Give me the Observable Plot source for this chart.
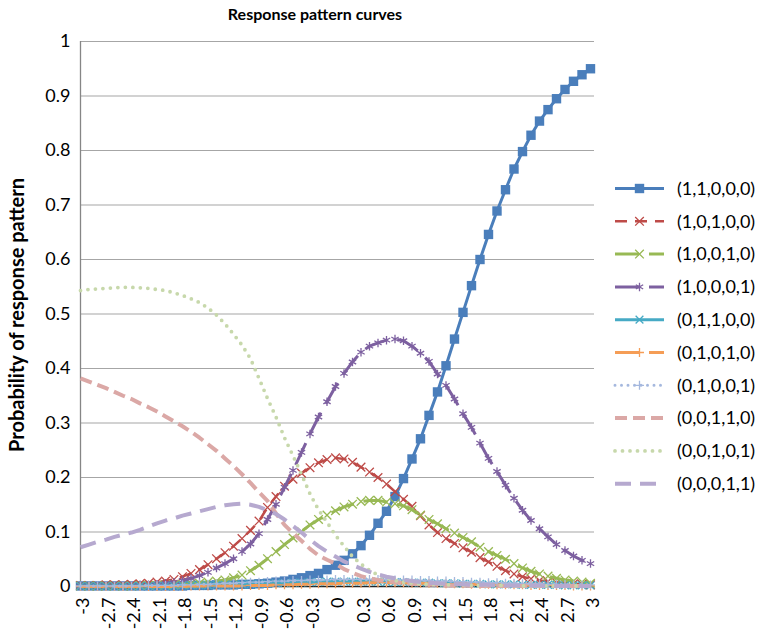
<!DOCTYPE html>
<html>
<head>
<meta charset="utf-8">
<script src="https://cdn.jsdelivr.net/npm/d3@7"></script>
<script src="https://cdn.jsdelivr.net/npm/@observablehq/plot@0.6"></script>
<style>
  html, body { margin: 0; padding: 0; background: #fff; }
  #chart { width: 761px; height: 636px; }
</style>
</head>
<body>
<div id="chart"></div>
<script>
// Ability levels (theta), one category every 0.1
const theta = [
  -3.0, -2.9, -2.8, -2.7, -2.6, -2.5, -2.4, -2.3, -2.2, -2.1,
  -2.0, -1.9, -1.8, -1.7, -1.6, -1.5, -1.4, -1.3, -1.2, -1.1,
  -1.0, -0.9, -0.8, -0.7, -0.6, -0.5, -0.4, -0.3, -0.2, -0.1,
   0.0,  0.1,  0.2,  0.3,  0.4,  0.5,  0.6,  0.7,  0.8,  0.9,
   1.0,  1.1,  1.2,  1.3,  1.4,  1.5,  1.6,  1.7,  1.8,  1.9,
   2.0,  2.1,  2.2,  2.3,  2.4,  2.5,  2.6,  2.7,  2.8,  2.9,
   3.0
];

// Labelled categories on the horizontal axis
const xTickLabels = [-3, -2.7, -2.4, -2.1, -1.8, -1.5, -1.2, -0.9, -0.6, -0.3, 0,
                     0.3, 0.6, 0.9, 1.2, 1.5, 1.8, 2.1, 2.4, 2.7, 3];
const yTicks = [0, 0.1, 0.2, 0.3, 0.4, 0.5, 0.6, 0.7, 0.8, 0.9, 1];

const patterns = ["(1,1,0,0,0)", "(1,0,1,0,0)", "(1,0,0,1,0)", "(1,0,0,0,1)", "(0,1,1,0,0)",
                  "(0,1,0,1,0)", "(0,1,0,0,1)", "(0,0,1,1,0)", "(0,0,1,0,1)", "(0,0,0,1,1)"];

// Probability of each response pattern at every theta
const p11000 = [
  0.001,0.001,0.001,0.001,0.001,0.001,0.001,0.001,0.001,0.001,
  0.001,0.001,0.001,0.002,0.002,0.002,0.003,0.003,0.003,0.004,
  0.004,0.005,0.006,0.008,0.010,0.013,0.016,0.020,0.024,0.031,
  0.039,0.048,0.060,0.075,0.094,0.116,0.138,0.165,0.198,0.234,
  0.271,0.314,0.357,0.405,0.454,0.503,0.552,0.600,0.646,0.689,
  0.728,0.766,0.798,0.828,0.854,0.875,0.895,0.912,0.927,0.939,
  0.950];
const p10100 = [
  0.002,0.002,0.002,0.003,0.003,0.003,0.004,0.005,0.006,0.008,
  0.010,0.013,0.018,0.024,0.031,0.040,0.051,0.062,0.074,0.088,
  0.103,0.120,0.145,0.165,0.184,0.197,0.208,0.218,0.227,0.233,
  0.236,0.234,0.228,0.219,0.210,0.200,0.188,0.174,0.160,0.147,
  0.130,0.113,0.099,0.088,0.079,0.071,0.063,0.053,0.045,0.037,
  0.029,0.023,0.018,0.014,0.011,0.009,0.007,0.006,0.005,0.004,
  0.003];
const p10010 = [
  0.001,0.001,0.001,0.001,0.001,0.001,0.001,0.002,0.002,0.002,
  0.003,0.003,0.004,0.005,0.006,0.008,0.010,0.012,0.016,0.021,
  0.029,0.039,0.051,0.064,0.077,0.089,0.101,0.113,0.123,0.131,
  0.139,0.146,0.151,0.156,0.158,0.158,0.155,0.152,0.148,0.141,
  0.131,0.123,0.115,0.106,0.098,0.090,0.082,0.072,0.064,0.057,
  0.050,0.042,0.034,0.028,0.023,0.019,0.015,0.012,0.010,0.008,
  0.006];
const p10001 = [
  0.001,0.001,0.001,0.001,0.002,0.002,0.002,0.003,0.003,0.004,
  0.006,0.008,0.011,0.015,0.020,0.026,0.034,0.042,0.051,0.064,
  0.078,0.097,0.123,0.151,0.182,0.213,0.246,0.280,0.311,0.339,
  0.367,0.391,0.412,0.430,0.441,0.447,0.452,0.454,0.451,0.441,
  0.428,0.413,0.390,0.369,0.344,0.317,0.292,0.263,0.235,0.211,
  0.186,0.162,0.140,0.121,0.106,0.091,0.077,0.066,0.056,0.048,
  0.042];
const p01100 = [
  0.001,0.001,0.001,0.001,0.001,0.001,0.001,0.001,0.001,0.001,
  0.001,0.001,0.002,0.002,0.002,0.002,0.003,0.003,0.003,0.004,
  0.004,0.005,0.005,0.006,0.006,0.007,0.007,0.008,0.008,0.009,
  0.009,0.009,0.009,0.009,0.009,0.009,0.008,0.008,0.008,0.007,
  0.007,0.007,0.006,0.006,0.006,0.005,0.005,0.005,0.004,0.004,
  0.004,0.004,0.003,0.003,0.003,0.003,0.003,0.002,0.002,0.002,
  0.002];
const p01010 = [
  0.000,0.000,0.000,0.000,0.000,0.000,0.000,0.000,0.000,0.000,
  0.000,0.000,0.000,0.001,0.001,0.001,0.001,0.001,0.001,0.001,
  0.002,0.002,0.002,0.003,0.003,0.003,0.004,0.004,0.005,0.005,
  0.005,0.006,0.006,0.006,0.007,0.007,0.007,0.007,0.007,0.006,
  0.006,0.006,0.006,0.005,0.005,0.005,0.004,0.004,0.004,0.003,
  0.003,0.003,0.003,0.002,0.002,0.002,0.002,0.002,0.001,0.001,
  0.001];
const p01001 = [
  0.001,0.001,0.001,0.001,0.001,0.001,0.001,0.001,0.002,0.002,
  0.002,0.002,0.003,0.003,0.004,0.004,0.005,0.006,0.006,0.007,
  0.008,0.008,0.009,0.010,0.010,0.011,0.011,0.012,0.012,0.012,
  0.013,0.013,0.013,0.013,0.013,0.013,0.013,0.012,0.012,0.012,
  0.011,0.011,0.010,0.010,0.009,0.009,0.008,0.008,0.007,0.007,
  0.006,0.006,0.005,0.005,0.005,0.004,0.004,0.004,0.003,0.003,
  0.003];
const p00110 = [
  0.382,0.376,0.370,0.364,0.357,0.350,0.344,0.336,0.329,0.321,
  0.312,0.303,0.294,0.284,0.273,0.261,0.249,0.235,0.221,0.206,
  0.190,0.173,0.157,0.134,0.113,0.098,0.084,0.069,0.057,0.049,
  0.042,0.032,0.025,0.019,0.015,0.012,0.010,0.008,0.006,0.005,
  0.004,0.003,0.003,0.002,0.002,0.002,0.001,0.001,0.001,0.001,
  0.001,0.001,0.001,0.001,0.001,0.001,0.001,0.001,0.001,0.001,
  0.001];
const p00101 = [
  0.543,0.545,0.546,0.547,0.548,0.549,0.549,0.548,0.547,0.545,
  0.543,0.539,0.534,0.528,0.521,0.511,0.498,0.482,0.463,0.443,
  0.418,0.382,0.345,0.311,0.273,0.240,0.206,0.170,0.141,0.118,
  0.094,0.074,0.055,0.041,0.030,0.021,0.015,0.011,0.008,0.006,
  0.005,0.004,0.004,0.003,0.003,0.003,0.002,0.002,0.002,0.002,
  0.002,0.001,0.001,0.001,0.001,0.001,0.001,0.001,0.001,0.001,
  0.001];
const p00011 = [
  0.072,0.077,0.082,0.086,0.091,0.095,0.099,0.104,0.110,0.116,
  0.121,0.125,0.130,0.134,0.138,0.142,0.146,0.149,0.151,0.152,
  0.150,0.146,0.140,0.133,0.123,0.111,0.099,0.086,0.074,0.064,
  0.055,0.046,0.039,0.033,0.027,0.022,0.018,0.015,0.012,0.010,
  0.008,0.007,0.006,0.005,0.004,0.004,0.003,0.003,0.003,0.002,
  0.002,0.002,0.002,0.002,0.002,0.001,0.001,0.001,0.001,0.001,
  0.001];

const values = [p11000, p10100, p10010, p10001, p01100, p01010, p01001, p00110, p00101, p00011];

// Line and marker look of each pattern
const looks = [
  {color: "#4a7ebb", width: 3,   dash: null,    cap: "butt",  symbol: "square",   r: 5.3, filled: true},
  {color: "#be4b48", width: 2.5, dash: "12,8",  cap: "butt",  symbol: "times",    r: 4},
  {color: "#98b954", width: 3,   dash: "24,10", cap: "butt",  symbol: "times",    r: 4},
  {color: "#7d60a0", width: 3,   dash: "24,10", cap: "butt",  symbol: "asterisk", r: 4},
  {color: "#46aac5", width: 3,   dash: null,    cap: "butt",  symbol: "times",    r: 3.6},
  {color: "#f59d56", width: 3,   dash: "24,10", cap: "butt",  symbol: "plus",     r: 3},
  {color: "#a5b8de", width: 3,   dash: "0,6.5", cap: "round", symbol: "plus",     r: 3},
  {color: "#dba8a6", width: 4,   dash: "12,6",  cap: "butt",  symbol: null},
  {color: "#c7d8ab", width: 3.8, dash: "0,7.5", cap: "round", symbol: null},
  {color: "#b6a9cf", width: 4,   dash: "16,9",  cap: "butt",  symbol: null}
];

const rows = patterns.map((name, k) => theta.map((t, i) => ({theta: t, p: values[k][i], pattern: name})));

const fmtX = d => String(d);
const fmtY = d => String(+d.toFixed(1));

const marks = [
  Plot.gridY(yTicks, {stroke: "#a6a6a6", strokeOpacity: 1, strokeWidth: 1.2}),
  Plot.ruleX([-3], {stroke: "#868686", strokeWidth: 1.3}),
  Plot.ruleY([0], {stroke: "#262626", strokeWidth: 1.3}),
  Plot.axisY({ticks: yTicks, tickFormat: fmtY, tickSize: 0, tickPadding: 10, fontSize: 18, label: null}),
  Plot.axisX({ticks: xTickLabels, tickFormat: fmtX, tickRotate: -90, tickSize: 0, tickPadding: 11, fontSize: 18, dx: 3, label: null})
];

rows.forEach((data, k) => {
  const s = looks[k];
  marks.push(Plot.line(data, {
    x: "theta", y: "p", stroke: s.color, strokeWidth: s.width,
    strokeDasharray: s.dash, strokeLinecap: s.cap, strokeLinejoin: "round"
  }));
  if (s.symbol) {
    marks.push(Plot.dot(data, s.filled
      ? {x: "theta", y: "p", symbol: s.symbol, r: s.r, fill: s.color, stroke: "none"}
      : {x: "theta", y: "p", symbol: s.symbol, r: s.r, fill: "none", stroke: s.color, strokeWidth: 1.3}));
  }
});

const chart = Plot.plot({
  width: 761,
  height: 636,
  marginLeft: 80,
  marginRight: 167,
  marginTop: 41,
  marginBottom: 50,
  style: {fontFamily: "Lato, 'Open Sans', sans-serif", fontSize: "18px", color: "#000", background: "#fff"},
  x: {domain: [-3, 3], range: [80, 590]},
  y: {domain: [0, 1]},
  marks
});

document.getElementById("chart").appendChild(chart);

// Title, vertical axis title and legend
const svg = d3.select(chart);
svg.append("text")
  .attr("x", 315).attr("y", 20)
  .attr("text-anchor", "middle")
  .attr("font-size", 16).attr("font-weight", "bold").attr("fill", "#000")
  .text("Response pattern curves");

svg.append("text")
  .attr("transform", "translate(24,315) rotate(-90)")
  .attr("text-anchor", "middle")
  .attr("font-size", 20).attr("font-weight", "bold").attr("fill", "#000")
  .text("Probability of response pattern");

const symbolTypes = {square: d3.symbolSquare, times: d3.symbolTimes, asterisk: d3.symbolAsterisk, plus: d3.symbolPlus};
const legend = svg.append("g");
patterns.forEach((name, k) => {
  const s = looks[k];
  const y = 188.5 + k * 32.8;
  legend.append("line")
    .attr("x1", 615).attr("x2", 664).attr("y1", y).attr("y2", y)
    .attr("stroke", s.color).attr("stroke-width", s.width)
    .attr("stroke-dasharray", s.dash).attr("stroke-linecap", s.cap);
  if (s.symbol) {
    legend.append("path")
      .attr("transform", `translate(639.5,${y})`)
      .attr("d", d3.symbol(symbolTypes[s.symbol], Math.PI * s.r * s.r)())
      .attr("fill", s.filled ? s.color : "none")
      .attr("stroke", s.filled ? "none" : s.color)
      .attr("stroke-width", 1.3);
  }
  legend.append("text")
    .attr("x", 677).attr("y", y).attr("dy", "0.35em")
    .attr("text-anchor", "start")
    .attr("font-size", 18).attr("fill", "#000")
    .text(name);
});
</script>
</body>
</html>
